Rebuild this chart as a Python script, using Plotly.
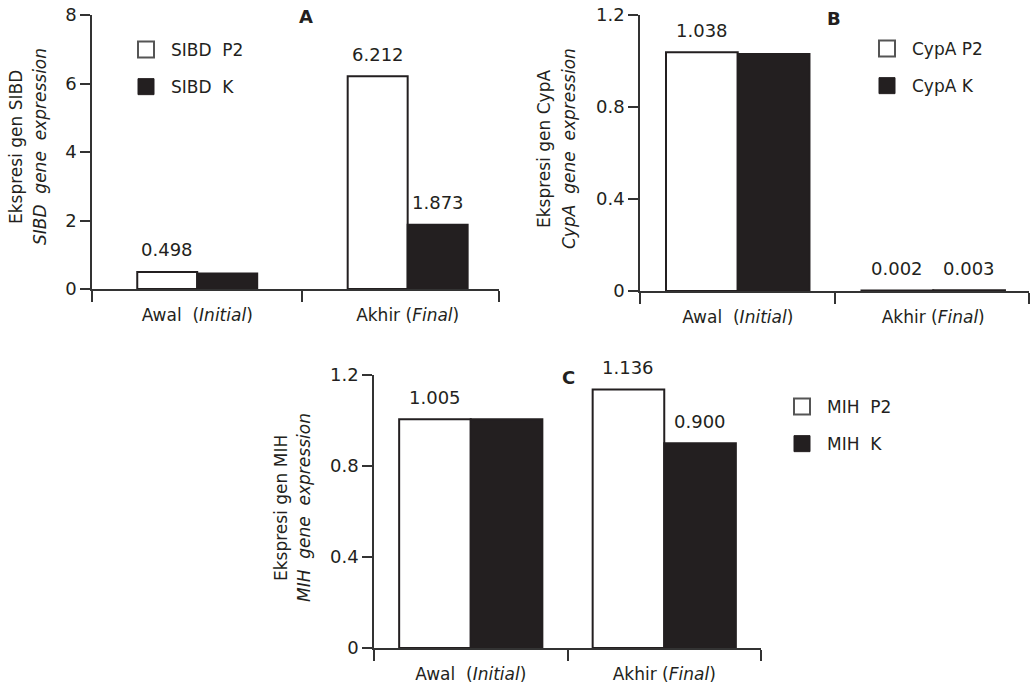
import plotly.graph_objects as go

# ---------------- data ----------------
categories = ["Awal", "Akhir"]
cat_labels = ["Awal\u00a0 (<i>Initial</i>)", "Akhir (<i>Final</i>)"]

sibd_p2 = [0.498, 6.212]
sibd_k = [0.45, 1.873]
sibd_p2_lbl = ["0.498", "6.212"]
sibd_k_lbl = [None, "1.873"]

cypa_p2 = [1.038, 0.002]
cypa_k = [1.03, 0.003]
cypa_p2_lbl = ["1.038", "0.002"]
cypa_k_lbl = [None, "0.003"]

mih_p2 = [1.005, 1.136]
mih_k = [1.005, 0.900]
mih_p2_lbl = ["1.005", "1.136"]
mih_k_lbl = [None, "0.900"]

y_ticks_a = [0, 2, 4, 6, 8]
y_ticks_bc = [0, 0.4, 0.8, 1.2]
y_ticktext_bc = ["0", "0.4", "0.8", "1.2"]

# ---------------- style ----------------
FONT = "DejaVu Sans"
TXT = "#231f20"
BLACK = "#231f20"
FS = 17
W, H = 1033, 686

panels = [
    dict(name="A", p2=sibd_p2, k=sibd_k, p2l=sibd_p2_lbl, kl=sibd_k_lbl,
         leg=("SIBD\u00a0 P2", "SIBD\u00a0 K"), width=0.285,
         xdom=(92, 499), ydom=(15, 289), xr=(-0.5, 1.434), yr=(0, 8),
         ytv=y_ticks_a, ytt=[str(v) for v in y_ticks_a],
         ytitle=("Ekspresi gen SIBD", "<i>SIBD\u00a0 gene\u00a0 expression</i>"),
         ytpos=(16, 40, 147), title_pos=(306, 17),
         legpos=(121, 32)),
    dict(name="B", p2=cypa_p2, k=cypa_k, p2l=cypa_p2_lbl, kl=cypa_k_lbl,
         leg=("CypA P2", "CypA K"), width=0.367,
         xdom=(640, 1029), ydom=(15, 291), xr=(-0.5, 1.49), yr=(0, 1.2),
         ytv=y_ticks_bc, ytt=y_ticktext_bc,
         ytitle=("Ekspresi gen CypA", "<i>CypA\u00a0 gene\u00a0 expression</i>"),
         ytpos=(544, 569, 149), title_pos=(834, 18),
         legpos=(862, 31)),
    dict(name="C", p2=mih_p2, k=mih_k, p2l=mih_p2_lbl, kl=mih_k_lbl,
         leg=("MIH\u00a0 P2", "MIH\u00a0 K"), width=0.37,
         xdom=(374, 761), ydom=(375, 648), xr=(-0.5, 1.5), yr=(0, 1.2),
         ytv=y_ticks_bc, ytt=y_ticktext_bc,
         ytitle=("Ekspresi gen MIH", "<i>MIH\u00a0 gene\u00a0 expression</i>"),
         ytpos=(281, 304, 508), title_pos=(568, 378),
         legpos=(777, 389)),
]

fig = go.Figure()
annotations = []
layout = {}

xs = list(range(len(categories)))

for i, p in enumerate(panels):
    sfx = "" if i == 0 else str(i + 1)
    xa, ya = "x" + sfx, "y" + sfx
    legname = "legend" + sfx
    w = p["width"]

    fig.add_trace(go.Bar(x=xs, y=p["p2"], width=w, offset=-w,
                         marker=dict(color="white", line=dict(color=BLACK, width=2)),
                         xaxis=xa, yaxis=ya, showlegend=False, name=p["leg"][0]))
    fig.add_trace(go.Bar(x=xs, y=p["k"], width=w, offset=0,
                         marker=dict(color=BLACK, line=dict(color=BLACK, width=2)),
                         xaxis=xa, yaxis=ya, showlegend=False, name=p["leg"][1]))

    # legend proxies
    fig.add_trace(go.Scatter(x=[None], y=[None], mode="markers", name=p["leg"][0],
                             marker=dict(symbol="square", size=16, color="white",
                                         line=dict(color="#555555", width=2)),
                             xaxis=xa, yaxis=ya, legend=legname,
                             legendgroup=p["name"] + "1"))
    fig.add_trace(go.Scatter(x=[None], y=[None], mode="markers", name=p["leg"][1],
                             marker=dict(symbol="square", size=16, color=BLACK,
                                         line=dict(color=BLACK, width=1)),
                             xaxis=xa, yaxis=ya, legend=legname,
                             legendgroup=p["name"] + "2"))

    layout[legname] = dict(x=p["legpos"][0] / W, y=1 - p["legpos"][1] / H,
                           xanchor="left", yanchor="top", bgcolor="rgba(0,0,0,0)",
                           borderwidth=0, itemwidth=40, tracegroupgap=12,
                           font=dict(family=FONT, size=FS, color=TXT))

    endx = p["xr"][1]
    layout["xaxis" + sfx] = dict(
        domain=[p["xdom"][0] / W, p["xdom"][1] / W], anchor=ya, automargin=False,
        range=list(p["xr"]), showgrid=False, zeroline=False,
        showline=True, linecolor="#333333", linewidth=1.5,
        tickmode="array", tickvals=xs, ticktext=cat_labels,
        ticks="outside", ticklen=10, tickcolor="rgba(0,0,0,0)",
        minor=dict(tickvals=[-0.5, 0.5, endx], ticks="outside", ticklen=11,
                   tickwidth=1.5, tickcolor="#333333", showgrid=False),
        tickfont=dict(family=FONT, size=FS, color=TXT), fixedrange=True)
    layout["yaxis" + sfx] = dict(
        domain=[1 - p["ydom"][1] / H, 1 - p["ydom"][0] / H], anchor=xa, automargin=False,
        range=list(p["yr"]), showgrid=False, zeroline=False,
        showline=True, linecolor="#333333", linewidth=1.5,
        tickmode="array", tickvals=p["ytv"], ticktext=p["ytt"],
        ticks="outside", ticklen=10, tickwidth=1.5, tickcolor="#333333",
        tickfont=dict(family=FONT, size=FS + 1, color=TXT), fixedrange=True)

    # value labels
    for j, x in enumerate(xs):
        if p["p2l"][j]:
            annotations.append(dict(x=x - w / 2, y=p["p2"][j], xref=xa, yref=ya,
                                    text=p["p2l"][j], showarrow=False, yshift=22,
                                    xanchor="center", yanchor="middle",
                                    font=dict(family=FONT, size=FS + 1, color=TXT)))
        if p["kl"][j]:
            annotations.append(dict(x=x + w / 2, y=p["k"][j], xref=xa, yref=ya,
                                    text=p["kl"][j], showarrow=False, yshift=22,
                                    xanchor="center", yanchor="middle",
                                    font=dict(family=FONT, size=FS + 1, color=TXT)))

    # panel letter
    annotations.append(dict(x=p["title_pos"][0] / W, y=1 - p["title_pos"][1] / H,
                            xref="paper", yref="paper", text="<b>%s</b>" % p["name"],
                            xanchor="center", yanchor="middle",
                            showarrow=False, font=dict(family=FONT, size=18, color=TXT)))
    # y-axis titles (two lines)
    annotations.append(dict(x=p["ytpos"][0] / W, y=1 - p["ytpos"][2] / H,
                            xref="paper", yref="paper", text=p["ytitle"][0],
                            xanchor="center", yanchor="middle",
                            textangle=-90, showarrow=False,
                            font=dict(family=FONT, size=FS, color=TXT)))
    annotations.append(dict(x=p["ytpos"][1] / W, y=1 - p["ytpos"][2] / H,
                            xref="paper", yref="paper", text=p["ytitle"][1],
                            xanchor="center", yanchor="middle",
                            textangle=-90, showarrow=False,
                            font=dict(family=FONT, size=FS, color=TXT)))

fig.update_layout(
    template="none",
    width=W, height=H, margin=dict(l=0, r=0, t=0, b=0, autoexpand=False),
    paper_bgcolor="white", plot_bgcolor="white",
    barmode="overlay", annotations=annotations,
    font=dict(family=FONT, size=FS, color=TXT),
    **layout,
)

fig.write_html("out.html", config={"displayModeBar": False},
               post_script="document.body.style.margin='0';"
                           "document.body.style.overflow='hidden';")
